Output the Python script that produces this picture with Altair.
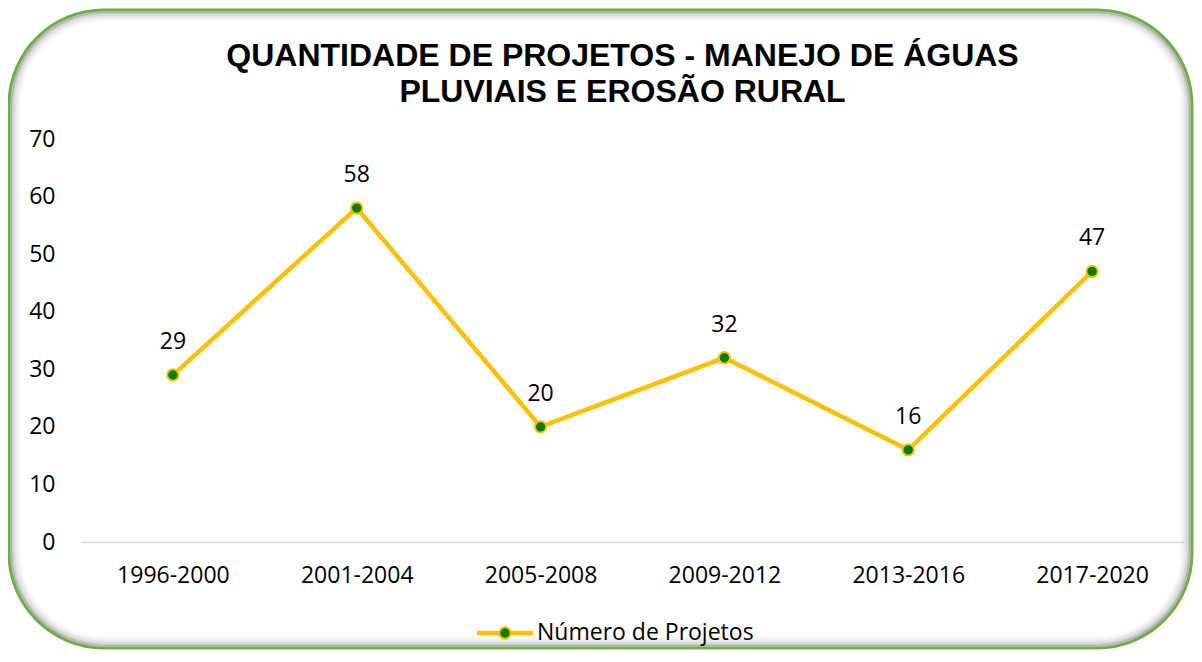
import altair as alt
import pandas as pd

periods = ["1996-2000", "2001-2004", "2005-2008", "2009-2012", "2013-2016", "2017-2020"]
projects = [29, 58, 20, 32, 16, 47]
series_name = "Número de Projetos"
title_lines = ["QUANTIDADE DE PROJETOS - MANEJO DE ÁGUAS", "PLUVIAIS E EROSÃO RURAL"]
y_ticks = [0, 10, 20, 30, 40, 50, 60, 70]

df = pd.DataFrame({"periodo": periods, "valor": projects})

W, H = 1103, 403
PAD_L, PAD_T, PAD_R, PAD_B = 73, 131, 10, 110
LINE_COLOR = "#FFC000"
POINT_COLOR = "#008000"
FONT = "Open Sans"

# frame extents relative to the plot origin
FX1, FX2, FY1, FY2 = -72, W + 8, -129, H + 106
RADIUS = 95

x_enc = alt.X("periodo:N", sort=periods,
              scale=alt.Scale(type="point", padding=0.5),
              axis=alt.Axis(title=None, labelAngle=0, ticks=False, grid=False,
                            domainColor="#D9D9D9", domainWidth=1.5,
                            labelFontSize=23, labelFont=FONT, labelColor="#000000",
                            labelPadding=22))
y_enc = alt.Y("valor:Q", scale=alt.Scale(domain=[0, 70], nice=False),
              axis=alt.Axis(title=None, values=y_ticks, domain=False, ticks=False,
                            grid=False, labelFontSize=23, labelFont=FONT,
                            labelColor="#000000", labelPadding=26))

dummy = pd.DataFrame({"k": [0]})

# decorative frame: soft inner shadow + green rounded border
shadow_layers = []
for inset, op in [(11, 0.025), (9.5, 0.045), (8, 0.07), (6.5, 0.1), (5, 0.14), (3.5, 0.2), (2.2, 0.28)]:
    shadow_layers.append(
        alt.Chart(dummy).mark_rect(cornerRadius=RADIUS - inset, fill=None, stroke="#000000",
                                   strokeOpacity=op, strokeWidth=1.6)
        .encode(x=alt.value(FX1 + inset), x2=alt.value(FX2 - inset),
                y=alt.value(FY1 + inset), y2=alt.value(FY2 - inset))
    )
border = alt.Chart(dummy).mark_rect(cornerRadius=RADIUS, fill=None, stroke="#70AD47",
                                    strokeWidth=3).encode(
    x=alt.value(FX1), x2=alt.value(FX2), y=alt.value(FY1), y2=alt.value(FY2))

base = alt.Chart(df)
line = base.mark_line(color=LINE_COLOR, strokeWidth=4.5).encode(x=x_enc, y=y_enc)
points = base.mark_point(shape="circle", filled=True, size=130, fill=POINT_COLOR,
                         stroke=LINE_COLOR, strokeWidth=2, opacity=1).encode(x=x_enc, y=y_enc)
labels = base.mark_text(fontSize=23, font=FONT, color="#000000", baseline="alphabetic",
                        dy=-26).encode(x=x_enc, y=y_enc, text="valor:Q")

# legend (line with dot + label) below the axis
leg = pd.DataFrame({"nome": [series_name]})
leg_line = alt.Chart(leg).mark_rule(color=LINE_COLOR, strokeWidth=4.5).encode(
    x=alt.value(396), x2=alt.value(452), y=alt.value(494))
leg_point = alt.Chart(leg).mark_point(shape="circle", filled=True, size=130, fill=POINT_COLOR,
                                      stroke=LINE_COLOR, strokeWidth=2, opacity=1).encode(
    x=alt.value(424), y=alt.value(494))
leg_text = alt.Chart(leg).mark_text(fontSize=23, font=FONT, color="#000000", align="left",
                                    baseline="middle").encode(
    x=alt.value(456), y=alt.value(494), text="nome:N")

chart = alt.layer(*shadow_layers, border, line, points, labels, leg_line, leg_point, leg_text).properties(
    width=W, height=H,
    title=alt.Title(title_lines, font="Liberation Sans", fontSize=32, fontWeight="bold",
                    color="#000000", anchor="middle", frame="group", dx=-10,
                    lineHeight=36, offset=-100),
    autosize=alt.AutoSizeParams(type="none"),
    padding={"left": PAD_L, "top": PAD_T, "right": PAD_R, "bottom": PAD_B},
    background="#FFFFFF",
).configure_view(strokeWidth=0, stroke="transparent")

chart.save("out.html", embed_options={"renderer": "svg", "actions": False})
